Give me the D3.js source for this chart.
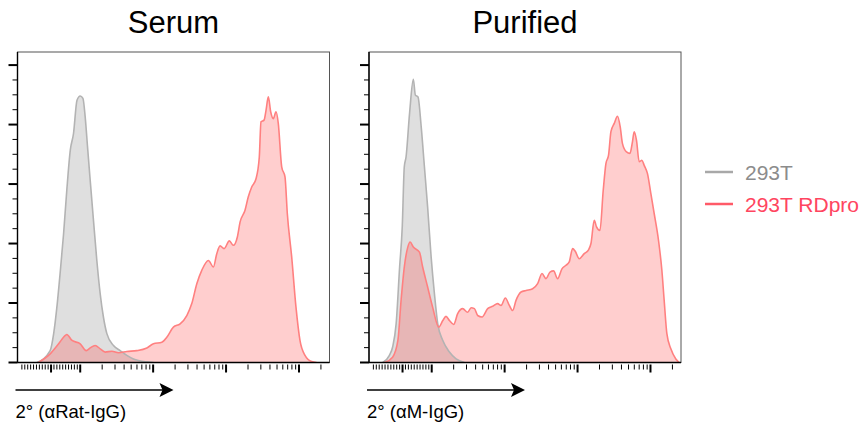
<!DOCTYPE html>
<html>
<head>
<meta charset="utf-8">
<script src="https://cdn.jsdelivr.net/npm/d3@7"></script>
<style>
  body { margin: 0; background: #fff; }
  svg { display: block; font-family: "Liberation Sans", Arial, sans-serif; }
</style>
</head>
<body>
<div id="chart"></div>
<script>
// panel titles, axis labels, legend
const panelTitles = ["Serum", "Purified"];
const axisLabels = ["2° (αRat-IgG)", "2° (αM-IgG)"];
const seriesNames = ["293T", "293T RDpro"];

// [intensity, % of max]
const serum293T = [
    [-48, 0], [-3, 4.0], [9, 9.7], [20, 18.6], [31, 29.9], [43, 43.3], [54, 57.9], [66, 71.4],
    [77, 77], [89, 88.2], [100, 89.6], [109, 88.8], [117, 82.6], [126, 72.5], [137, 61.3],
    [152, 47.8], [169, 34.3], [188, 23.1], [208, 15.3], [232, 9.7], [286, 5.7], [353, 4.0],
    [436, 2.4], [537, 1.2], [820, 0.2], [1010, 0]
];
const serumRDpro = [
    [-43, 0], [-3, 2.9], [26, 6.3], [49, 9.1], [54, 9.4], [72, 7.4], [100, 6.3], [121, 4.0],
    [137, 4.9], [160, 5.7], [188, 4.6], [220, 3.5], [272, 3.8], [335, 3.3], [436, 3.7],
    [598, 4.0], [820, 4.9], [1010, 6.3], [1316, 6.8], [1540, 8.5], [1897, 11.9], [2344, 13.0],
    [2897, 15.8], [3388, 19.8], [3971, 26.5], [4645, 31.0], [5728, 34.3], [6702, 32.1],
    [7464, 36.6], [8283, 39.2], [9397, 38.3], [11100, 40.9], [12590, 39.4], [14290, 42.2],
    [15560, 47.2], [18200, 51.2], [20190, 55.7], [22490, 59.0], [25750, 61.8], [28570, 69.1],
    [30130, 80.9], [33170, 81.5], [35320, 84.8], [38000, 89.3], [40930, 84.3], [44460, 82.0],
    [48420, 84.3], [52030, 80.4], [57940, 65.8], [64330, 62.4], [69180, 50.1], [79430, 35.5],
    [90970, 18.6], [103200, 7.4], [120900, 2.4], [149300, 0.3], [174700, 0]
];
const purified293T = [
    [-68, 0], [-45, 2.4], [-34, 5.2], [-22, 13.0], [-10, 32.1], [-1, 45.6], [6, 65.8], [12, 69.1],
    [24, 83.7], [37, 95.2], [44, 89.9], [53, 89.3], [64, 79.2], [75, 65.8], [86, 52.3],
    [98, 35.5], [109, 23.1], [121, 13.0], [142, 7.4], [175, 3.5], [216, 1.2], [281, 0]
];
const purifiedRDpro = [
    [-62, 0], [-34, 1.8], [-16, 7.4], [-5, 20.9], [6, 32.1], [18, 38.8], [26, 40.5], [37, 38.8],
    [58, 37.1], [69, 32.1], [86, 25.4], [103, 18.6], [125, 11.9], [142, 14.1], [157, 15.5],
    [175, 14.1], [200, 12.8], [227, 16.4], [266, 18.1], [311, 16.9], [347, 18.4], [385, 18.1],
    [427, 15.8], [490, 15.3], [585, 18.1], [685, 18.9], [802, 19.8], [893, 19.2], [1023, 21.7],
    [1160, 19.2], [1288, 17.5], [1433, 20.9], [1678, 23.7], [1965, 24.2], [2421, 24.8],
    [2834, 26.5], [3254, 29.9], [3690, 28.2], [4188, 30.4], [4690, 30.8], [5321, 28.2],
    [6109, 31.5], [6935, 32.7], [7691, 33.8], [8551, 38.3], [9296, 37.4], [10540, 34.9],
    [12350, 36.6], [14150, 37.9], [15270, 40.0], [16940, 47.8], [18200, 45.6], [20270, 44.4],
    [22490, 57.9], [24490, 66.9], [26610, 69.7], [28690, 77.6], [31850, 80.4], [35320, 82.8],
    [38460, 79.2], [41300, 73.6], [46880, 70.8], [52240, 70.3], [56620, 74.2], [59780, 77.6],
    [64330, 74.7], [69980, 67.5], [76210, 68.0], [82000, 66.3], [90970, 63.5], [101200, 56.8],
    [112400, 50.1], [128800, 41.1], [143300, 31.0], [154100, 20.9], [167800, 9.7],
    [190200, 4.6], [222700, 1.2], [247100, 0]
];

// axis ticks
const yMajorTicks = [0, 20, 40, 60, 80, 100];
const yMinorTicks = [5, 10, 15, 25, 30, 35, 45, 50, 55, 65, 70, 75, 85, 90, 95];
const xMajorTicks = [0, 100, 1000, 10000, 100000];
const xMinorTicks = [
    -100, -90, -80, -70, -60, -50, -40, -30, -20, -10, 10, 20, 30, 40, 50, 60, 70, 80, 90,
    200, 300, 400, 500, 600, 700, 800, 900,
    2000, 3000, 4000, 5000, 6000, 7000, 8000, 9000,
    20000, 30000, 40000, 50000, 60000, 70000, 80000, 90000, 200000
];
const xRange = [-115, 262144];
const yMax = 104.4;

const panels = [
    { title: panelTitles[0], label: axisLabels[0], series: [serum293T, serumRDpro], left: 17.5 },
    { title: panelTitles[1], label: axisLabels[1], series: [purified293T, purifiedRDpro], left: 369 }
];

const fills = ["#7a7a7a", "#ff4a4a"];
const fillOpacity = [0.24, 0.27];
const strokes = ["#b3b3b3", "#ff8080"];

const svgW = 866, svgH = 428;
const pTop = 52, pW = 312, pH = 310.5;

// biexponential-like display transform: linear near zero, log above 100
function biex(v) {
    return v >= 100 ? Math.log10(v) : 2 + (v - 100) * 0.004;
}

const svg = d3.select("#chart").append("svg")
    .attr("width", svgW)
    .attr("height", svgH);

const defs = svg.append("defs");

panels.forEach((p, i) => {
    const u = d3.scaleLinear().domain(xRange.map(biex)).range([0, pW]);
    const x = v => u(biex(v));
    const y = d3.scaleLinear().domain([0, yMax]).range([pH, 0]);

    const g = svg.append("g")
        .attr("transform", `translate(${p.left}, ${pTop})`);

    defs.append("clipPath").attr("id", "clip" + i)
        .append("rect").attr("width", pW).attr("height", pH);

    const area = d3.area()
        .x(d => x(d[0]))
        .y0(pH)
        .y1(d => y(d[1]))
        .curve(d3.curveMonotoneX);
    const line = d3.line()
        .x(d => x(d[0]))
        .y(d => y(d[1]))
        .curve(d3.curveMonotoneX);

    const plot = g.append("g").attr("clip-path", `url(#clip${i})`);
    p.series.forEach((s, k) => {
        plot.append("path")
            .attr("d", area(s))
            .attr("fill", fills[k])
            .attr("fill-opacity", fillOpacity[k]);
    });
    p.series.forEach((s, k) => {
        plot.append("path")
            .attr("d", line(s))
            .attr("fill", "none")
            .attr("stroke", strokes[k])
            .attr("stroke-width", 1.6)
            .attr("stroke-linejoin", "round");
    });

    // frame
    g.append("rect")
        .attr("width", pW)
        .attr("height", pH)
        .attr("fill", "none")
        .attr("stroke", "#555")
        .attr("stroke-width", 1);
    g.append("line").attr("x1", 0).attr("x2", 0).attr("y1", 0).attr("y2", pH)
        .attr("stroke", "#000").attr("stroke-width", 1.4);
    g.append("line").attr("x1", 0).attr("x2", pW).attr("y1", pH).attr("y2", pH)
        .attr("stroke", "#000").attr("stroke-width", 1.4);

    // y ticks
    g.selectAll(".ymaj").data(yMajorTicks).enter().append("line")
        .attr("x1", -9).attr("x2", 0)
        .attr("y1", d => y(d)).attr("y2", d => y(d))
        .attr("stroke", "#000").attr("stroke-width", 2);
    g.selectAll(".ymin").data(yMinorTicks).enter().append("line")
        .attr("x1", -5).attr("x2", 0)
        .attr("y1", d => y(d)).attr("y2", d => y(d))
        .attr("stroke", "#000").attr("stroke-width", 1);

    // x ticks
    g.selectAll(".xmaj").data(xMajorTicks).enter().append("line")
        .attr("x1", d => x(d)).attr("x2", d => x(d))
        .attr("y1", pH + 2).attr("y2", pH + 10)
        .attr("stroke", "#000").attr("stroke-width", 2);
    g.selectAll(".xmin").data(xMinorTicks).enter().append("line")
        .attr("x1", d => x(d)).attr("x2", d => x(d))
        .attr("y1", pH + 2).attr("y2", pH + 7)
        .attr("stroke", "#000").attr("stroke-width", 1);

    // title
    g.append("text")
        .attr("x", pW / 2)
        .attr("y", -19)
        .attr("text-anchor", "middle")
        .attr("font-size", "31px")
        .attr("fill", "#000")
        .text(p.title);

    // arrow + label
    const ay = 390 - pTop;
    g.append("line")
        .attr("x1", -2).attr("x2", 146)
        .attr("y1", ay).attr("y2", ay)
        .attr("stroke", "#000").attr("stroke-width", 1.5);
    g.append("path")
        .attr("d", `M${156},${ay} L${142},${ay - 7} L${145},${ay} L${142},${ay + 7} Z`)
        .attr("fill", "#000");
    g.append("text")
        .attr("x", -2)
        .attr("y", 418 - pTop)
        .attr("font-size", "18.5px")
        .attr("fill", "#000")
        .text(p.label);
});

// legend
const legendColors = ["#a8a8a8", "#ff5a68"];
const legendText = ["#8c8c8c", "#ff4560"];
const legend = svg.append("g").attr("transform", "translate(705, 172)");
seriesNames.forEach((name, k) => {
    const row = legend.append("g").attr("transform", `translate(0, ${k * 32})`);
    row.append("line")
        .attr("x1", 0).attr("x2", 28)
        .attr("stroke", legendColors[k]).attr("stroke-width", 2.5);
    row.append("text")
        .attr("x", 40).attr("y", 7.5)
        .attr("font-size", "21px")
        .attr("fill", legendText[k])
        .text(name);
});
</script>
</body>
</html>
